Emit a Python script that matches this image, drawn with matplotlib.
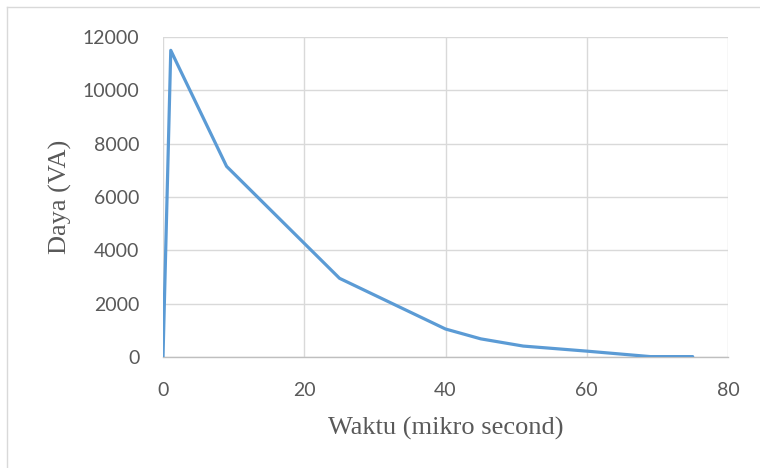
import matplotlib.pyplot as plt
from matplotlib.lines import Line2D

# time (microseconds) and power (VA)
waktu = [0, 1.1, 2, 9, 25, 40, 45, 51, 60, 69, 75]
daya = [0, 11500, 11000, 7150, 2950, 1050, 680, 410, 220, 15, 15]

grey = '#595959'

fig = plt.figure(figsize=(7.6, 4.68), dpi=100)
ax = fig.add_axes([163/760, 1 - 357/468, (728 - 163)/760, (357 - 37)/468])

ax.plot(waktu, daya, color='#5b9bd5', linewidth=2.3, solid_joinstyle='round',
        solid_capstyle='round', zorder=3)

ax.set_xlim(0, 80)
ax.set_ylim(0, 12000)
ax.set_xticks(range(0, 81, 20))
ax.set_yticks(range(0, 12001, 2000))
ax.grid(True, color='#d9d9d9', linewidth=1)
ax.set_axisbelow(True)
for side in ['top', 'right', 'left']:
    ax.spines[side].set_visible(False)
ax.spines['bottom'].set_color('#bfbfbf')
ax.spines['bottom'].set_linewidth(1)
ax.tick_params(length=0, labelsize=14, labelcolor=grey)
ax.tick_params(axis='x', pad=18)
ax.tick_params(axis='y', pad=17)
for lab in ax.get_xticklabels() + ax.get_yticklabels():
    lab.set_family('Lato')

ax.set_xlabel('Waktu (mikro second)', family='Liberation Serif', fontsize=19,
              color=grey, labelpad=13)
ax.set_ylabel('Daya (VA)', family='Liberation Serif', fontsize=19,
              color=grey, labelpad=8)

# chart frame (only top and left edges show in the crop)
fig.add_artist(Line2D([7/760, 7/760], [0, 1 - 7/468], color='#d9d9d9', lw=1))
fig.add_artist(Line2D([7/760, 1], [1 - 7/468, 1 - 7/468], color='#d9d9d9', lw=1))

fig.savefig('out.png', dpi=100)
